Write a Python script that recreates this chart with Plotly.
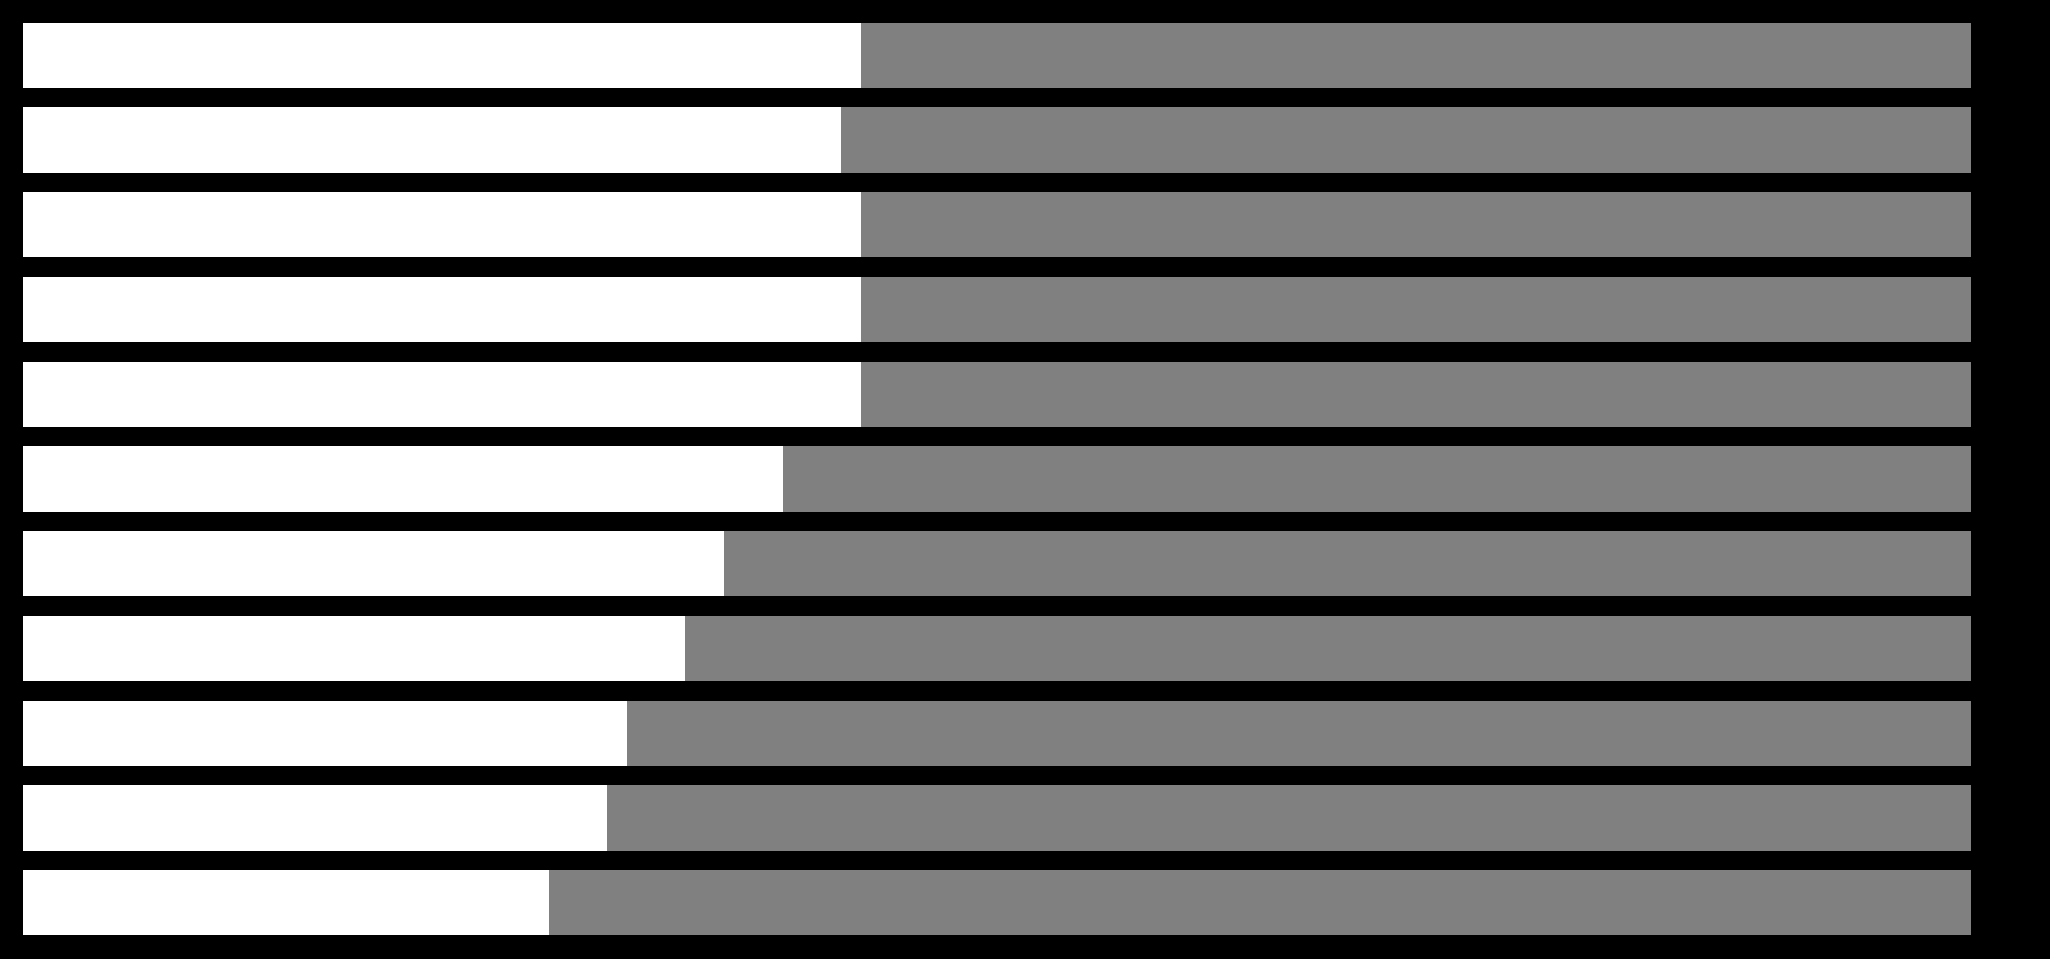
import plotly.graph_objects as go

categories = ["R1", "R2", "R3", "R4", "R5", "R6", "R7", "R8", "R9", "R10", "R11"]
white_vals = [43, 42, 43, 43, 43, 39, 36, 34, 31, 30, 27]
gray_vals = [57, 58, 57, 57, 57, 61, 64, 66, 69, 70, 73]

fig = go.Figure()
fig.add_trace(go.Bar(y=categories, x=white_vals, orientation="h",
                     marker=dict(color="#ffffff", line=dict(width=0)), showlegend=False))
fig.add_trace(go.Bar(y=categories, x=gray_vals, orientation="h",
                     marker=dict(color="#808080", line=dict(width=0)), showlegend=False))

fig.update_layout(
    width=2050, height=959,
    barmode="stack", bargap=0.23,
    paper_bgcolor="#000000", plot_bgcolor="#000000",
    margin=dict(l=23, r=79, t=13, b=14),
    xaxis=dict(range=[0, 100], visible=False),
    yaxis=dict(autorange="reversed", visible=False),
)
fig.write_html(
    "out.html",
    config={"displayModeBar": False},
    post_script="document.body.style.margin='0';document.body.style.background='#000000';document.body.style.overflow='hidden';",
)
